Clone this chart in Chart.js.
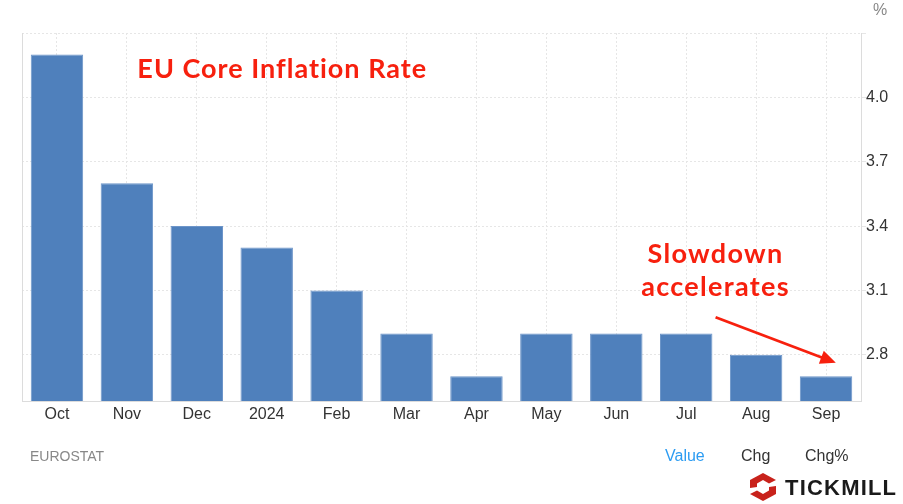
<!DOCTYPE html>
<html>
<head>
<meta charset="utf-8">
<script src="https://cdn.jsdelivr.net/npm/chart.js@4.4.1/dist/chart.umd.min.js"></script>
<style>
  body { margin: 0; background: #fff; font-family: "Liberation Sans", Arial, sans-serif; }
  #wrap { position: relative; width: 903px; height: 504px; }
  .lbl { position: absolute; white-space: nowrap; }
</style>
</head>
<body>
<div id="wrap">
  <canvas id="chart" width="903" height="504"></canvas>
  <div class="lbl" style="left:873px; top:1px; font-size:16px; color:#888;">%</div>
  <div class="lbl" style="left:30px; top:448px; font-size:14px; color:#888;">EUROSTAT</div>
  <div class="lbl" style="left:665px; top:447px; font-size:16px; color:#2c9cf2;">Value</div>
  <div class="lbl" style="left:741px; top:447px; font-size:16px; color:#333;">Chg</div>
  <div class="lbl" style="left:805px; top:447px; font-size:16px; color:#333;">Chg%</div>
  <svg class="lbl" style="left:749px; top:472px;" width="28" height="30" viewBox="0 0 28 30">
    <polygon points="14,1 27,8 27,22 14,29 1,22 1,8" fill="#c8221b"/>
    <polygon points="14,8 20,11.5 20,18.5 14,22 8,18.5 8,11.5" fill="#fff"/>
    <polygon points="20,11.5 27,8 27,14 20,15" fill="#fff"/>
    <polygon points="8,18.5 1,22 1,16 8,15" fill="#fff"/>
  </svg>
  <div class="lbl" style="left:785px; top:475px; font-size:22px; font-weight:bold; letter-spacing:1.2px; color:#1a1a1a;">TICKMILL</div>
</div>
<script>
// EU core inflation, monthly (%)
const months = ['Oct', 'Nov', 'Dec', '2024', 'Feb', 'Mar', 'Apr', 'May', 'Jun', 'Jul', 'Aug', 'Sep'];
const coreRate = [4.2, 3.6, 3.4, 3.3, 3.1, 2.9, 2.7, 2.9, 2.9, 2.9, 2.8, 2.7];
const yTicks = [2.8, 3.1, 3.4, 3.7, 4.0];
const yMin = 2.585;
const yMax = 4.3;

const RED = '#f7200e';

// Annotation anchors in data space (category index, value)
const titleAt = { x: 1.15, y: 4.13 };
const noteAt = { x: 9.42, y1: 3.267, y2: 3.113 };
const arrowFrom = { x: 9.42, y: 2.975 };
const arrowTo = { x: 11.14, y: 2.763 };

const annotations = {
  id: 'annotations',
  beforeDatasetsDraw(chart) {
    const { ctx, chartArea } = chart;
    ctx.save();
    ctx.strokeStyle = '#dcdcdc';
    ctx.lineWidth = 1;
    ctx.beginPath();
    ctx.moveTo(chartArea.left + 0.5, chartArea.top);
    ctx.lineTo(chartArea.left + 0.5, chartArea.bottom);
    ctx.stroke();
    ctx.restore();
  },
  afterDatasetsDraw(chart) {
    const { ctx } = chart;
    const x = chart.scales.x, y = chart.scales.y;
    ctx.save();
    ctx.fillStyle = RED;
    ctx.textBaseline = 'middle';

    ctx.font = 'bold 27px Lato, "DejaVu Sans", sans-serif';
    ctx.letterSpacing = '1px';
    ctx.textAlign = 'left';
    ctx.fillText('EU Core Inflation Rate', x.getPixelForValue(titleAt.x), y.getPixelForValue(titleAt.y));

    ctx.font = 'bold 27px Lato, "DejaVu Sans", sans-serif';
    ctx.letterSpacing = '1.3px';
    ctx.textAlign = 'center';
    const nx = x.getPixelForValue(noteAt.x);
    ctx.fillText('Slowdown', nx, y.getPixelForValue(noteAt.y1));
    ctx.fillText('accelerates', nx, y.getPixelForValue(noteAt.y2));
    ctx.letterSpacing = '0px';

    // arrow
    const x1 = x.getPixelForValue(arrowFrom.x), y1 = y.getPixelForValue(arrowFrom.y);
    const x2 = x.getPixelForValue(arrowTo.x), y2 = y.getPixelForValue(arrowTo.y);
    const ang = Math.atan2(y2 - y1, x2 - x1);
    const head = 17;
    ctx.strokeStyle = RED;
    ctx.lineWidth = 2.8;
    ctx.beginPath();
    ctx.moveTo(x1, y1);
    ctx.lineTo(x2 - head * 0.8 * Math.cos(ang), y2 - head * 0.8 * Math.sin(ang));
    ctx.stroke();
    ctx.beginPath();
    ctx.moveTo(x2, y2);
    ctx.lineTo(x2 - head * Math.cos(ang - 0.42), y2 - head * Math.sin(ang - 0.42));
    ctx.lineTo(x2 - head * Math.cos(ang + 0.42), y2 - head * Math.sin(ang + 0.42));
    ctx.closePath();
    ctx.fill();
    ctx.restore();
  }
};

new Chart(document.getElementById('chart'), {
  type: 'bar',
  data: {
    labels: months,
    datasets: [{
      data: coreRate,
      backgroundColor: '#4f80bc',
      borderColor: '#6d95c9',
      borderWidth: 1,
      barPercentage: 0.75,
      categoryPercentage: 1
    }]
  },
  options: {
    responsive: false,
    animation: false,
    layout: { padding: { left: 22, top: 33, right: 0, bottom: 0 } },
    plugins: { legend: { display: false }, tooltip: { enabled: false } },
    scales: {
      x: {
        afterFit(scale) { scale.height = 103; },
        grid: { offset: false, color: '#e6e6e6', drawTicks: false },
        border: { display: true, color: '#dcdcdc', dash: [2, 2] },
        ticks: { color: '#333', padding: 4, font: { family: '"Liberation Sans", Arial, sans-serif', size: 16 } }
      },
      y: {
        position: 'right',
        min: yMin,
        max: yMax,
        afterFit(scale) { scale.width = 42; },
        afterBuildTicks(scale) {
          scale.ticks = yTicks.concat([yMax]).map(v => ({ value: v }));
        },
        grid: { color: '#e6e6e6', tickLength: 5, tickColor: '#e6e6e6' },
        border: { display: true, color: '#dcdcdc', dash: [2, 2] },
        ticks: {
          color: '#333',
          padding: 0,
          font: { family: '"Liberation Sans", Arial, sans-serif', size: 16 },
          callback: v => (v === yMax ? '' : v.toFixed(1))
        }
      }
    }
  },
  plugins: [annotations]
});
</script>
</body>
</html>
